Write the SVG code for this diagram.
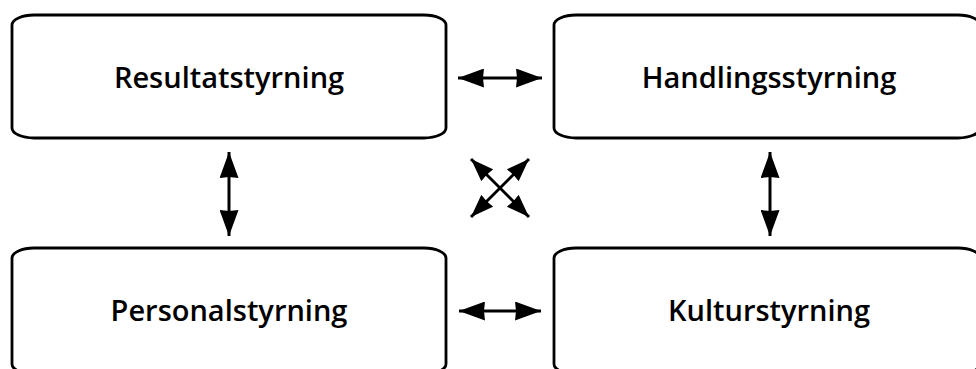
<svg xmlns="http://www.w3.org/2000/svg" width="976" height="369" viewBox="0 0 976 369">
<style>
.box{fill:#fff;stroke:#000;stroke-width:2.8}
.lbl{font-family:"Open Sans","Noto Sans",sans-serif;font-size:29px;font-weight:600;fill:#000;text-anchor:middle}
.con{stroke:#000;stroke-width:3;fill:none;marker-start:url(#ah);marker-end:url(#ah)}
.dia{stroke:#000;stroke-width:3;fill:none;marker-start:url(#ah2);marker-end:url(#ah2)}
</style>
<defs>
<marker id="ah" viewBox="0 0 26 19" refX="26" refY="9.5" markerWidth="26" markerHeight="19" orient="auto-start-reverse" markerUnits="userSpaceOnUse">
<path d="M0,0 L26,9.5 L0,19 L1,9.5 Z" fill="#000"/>
</marker>
<marker id="ah2" viewBox="0 0 26 19" refX="26" refY="9.5" markerWidth="23" markerHeight="17" orient="auto-start-reverse" markerUnits="userSpaceOnUse">
<path d="M0,0 L26,9.5 L0,19 L1,9.5 Z" fill="#000"/>
</marker>
</defs>
<rect width="976" height="369" fill="#fff"/>
<g id="n-resultat">
<rect class="box" x="12" y="15" width="434" height="123" rx="22" ry="10"/>
<text class="lbl" x="229" y="88">Resultatstyrning</text>
</g>
<g id="n-handling">
<rect class="box" x="554" y="15" width="426" height="123" rx="22" ry="10"/>
<text class="lbl" x="769" y="88">Handlingsstyrning</text>
</g>
<g id="n-personal">
<rect class="box" x="12" y="248" width="434" height="126" rx="22" ry="10"/>
<text class="lbl" x="229" y="321">Personalstyrning</text>
</g>
<g id="n-kultur">
<rect class="box" x="554" y="248" width="426" height="126" rx="22" ry="10"/>
<text class="lbl" x="769" y="321">Kulturstyrning</text>
</g>
<g id="connectors">
<line class="con" x1="458" y1="78" x2="542" y2="78"/>
<line class="con" x1="459" y1="311" x2="541" y2="311"/>
<line class="con" x1="229" y1="152" x2="229" y2="236"/>
<line class="con" x1="770" y1="152" x2="770" y2="236"/>
<line class="dia" x1="471" y1="159" x2="529" y2="217"/>
<line class="dia" x1="529" y1="159" x2="471" y2="217"/>
</g>
</svg>
